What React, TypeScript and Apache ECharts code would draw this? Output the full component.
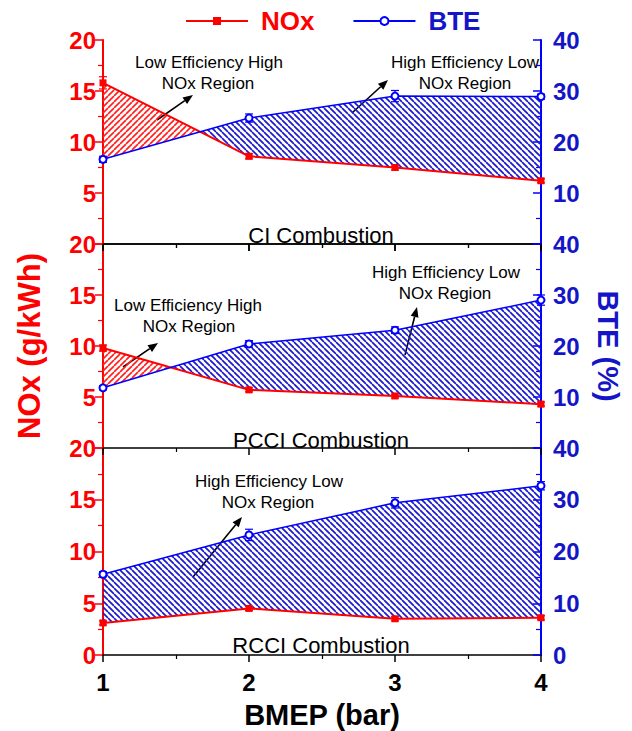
import React, { useEffect, useRef } from "react";
import * as echarts from "echarts";

const BMEP = [1, 2, 3, 4];
const PANEL_TITLES = ["CI Combustion", "PCCI Combustion", "RCCI Combustion"];
const NOX_CI = [15.8, 8.6, 7.5, 6.2];
const BTE_CI = [16.6, 24.7, 29.0, 28.9];
const NOX_PCCI = [9.8, 5.7, 5.1, 4.3];
const BTE_PCCI = [11.8, 20.4, 23.1, 29.0];
const NOX_RCCI = [3.1, 4.5, 3.5, 3.6];
const BTE_RCCI = [15.6, 23.2, 29.4, 32.7];
const NOX_ERR_CI = [0.6, 0.25, 0.25, 0.2];
const BTE_ERR_CI = [0.6, 0.8, 1.1, 0.5];
const NOX_ERR_PCCI = [0.3, 0.2, 0.2, 0.2];
const BTE_ERR_PCCI = [0.4, 0.65, 0.65, 1.0];
const NOX_ERR_RCCI = [0.2, 0.2, 0.2, 0.2];
const BTE_ERR_RCCI = [0.5, 1.1, 1.0, 0.8];
const NOX_TICKS = { min: 0, max: 20, interval: 5 };
const BTE_TICKS = { min: 0, max: 40, interval: 10 };

const RED = "#ff0000";
const BLUE = "#0000ff";
const BLUE_TEXT = "#1515c8";

function hatch(color: string, forward: boolean) {
  const s = 6;
  const c = document.createElement("canvas");
  c.width = s;
  c.height = s;
  const g = c.getContext("2d")!;
  g.strokeStyle = color;
  g.lineWidth = 1.7;
  for (const k of [-s, 0, s]) {
    g.beginPath();
    if (forward) {
      g.moveTo(k, s);
      g.lineTo(k + s, 0);
    } else {
      g.moveTo(k, 0);
      g.lineTo(k + s, s);
    }
    g.stroke();
  }
  return { image: c.toDataURL(), repeat: "repeat", imageWidth: s, imageHeight: s };
}

function arrow(x1: number, y1: number, x2: number, y2: number) {
  const ang = Math.atan2(y2 - y1, x2 - x1);
  const L = 10, W = 4;
  const bx = x2 - L * Math.cos(ang), by = y2 - L * Math.sin(ang);
  const px = -Math.sin(ang) * W, py = Math.cos(ang) * W;
  return [
    { type: "line", shape: { x1, y1, x2: bx, y2: by }, style: { stroke: "#000", lineWidth: 1.6 } },
    {
      type: "polygon",
      shape: { points: [[x2, y2], [bx + px, by + py], [bx - px, by - py]] },
      style: { fill: "#000" },
    },
  ];
}

function noteText(x: number, y: number, text: string, size = 17) {
  return {
    type: "text",
    x,
    y,
    style: {
      text,
      textAlign: "center",
      textVerticalAlign: "middle",
      font: `${size}px "Liberation Sans", Arial, sans-serif`,
      fill: "#000",
    },
  };
}

export default function App() {
  const ref = useRef<HTMLDivElement>(null);
  useEffect(() => {
    document.body.style.margin = "0";
    const chart = echarts.init(ref.current!, null, { renderer: "svg" });
    const blueHatch = hatch("#1a1acc", false);
    const redHatch = hatch("#ff2020", true);

    const panels = [
      { nox: NOX_CI, bte: BTE_CI, ne: NOX_ERR_CI, be: BTE_ERR_CI, top: 40, height: 204 },
      { nox: NOX_PCCI, bte: BTE_PCCI, ne: NOX_ERR_PCCI, be: BTE_ERR_PCCI, top: 244, height: 204 },
      { nox: NOX_RCCI, bte: BTE_RCCI, ne: NOX_ERR_RCCI, be: BTE_ERR_RCCI, top: 448, height: 207 },
    ];

    const grids = panels.map((p) => ({ left: 103, right: 91, top: p.top, height: p.height }));

    const xAxes: any[] = panels.map((_, i) => ({
      type: "value",
      gridIndex: i,
      position: "bottom",
      min: 1,
      max: 4,
      interval: 1,
      axisLine: { lineStyle: { color: "#000", width: 1.5 } },
      axisTick: { show: true, length: 7, lineStyle: { color: "#000", width: 1.5 } },
      minorTick: { show: true, splitNumber: 2, length: 4, lineStyle: { color: "#000", width: 1.2 } },
      splitLine: { show: false },
      axisLabel: {
        show: i === 2,
        color: "#000",
        fontSize: 24,
        fontWeight: "bold",
        margin: 15,
      },
      name: i === 2 ? "BMEP (bar)" : "",
      nameLocation: "middle",
      nameGap: 45,
      nameTextStyle: { color: "#000", fontSize: 29, fontWeight: "bold" },
    }));
    xAxes.push({
      type: "value",
      gridIndex: 0,
      position: "top",
      min: 1,
      max: 4,
      interval: 1,
      axisLine: { lineStyle: { color: "#000", width: 1.5 } },
      axisTick: { show: true, inside: true, length: 7, lineStyle: { color: "#000", width: 1.5 } },
      minorTick: { show: true, splitNumber: 2, length: 4, lineStyle: { color: "#000", width: 1.2 } },
      splitLine: { show: false },
      axisLabel: { show: false },
    });

    const yAxes: any[] = [];
    panels.forEach((_, i) => {
      yAxes.push({
        type: "value",
        gridIndex: i,
        position: "left",
        ...NOX_TICKS,
        axisLine: { show: true, lineStyle: { color: RED, width: 2 } },
        axisTick: { show: true, length: 8, lineStyle: { color: RED, width: 1.5 } },
        minorTick: { show: true, splitNumber: 2, length: 5, lineStyle: { color: RED, width: 1.2 } },
        splitLine: { show: false },
        axisLabel: { color: RED, fontSize: 24, fontWeight: "bold", margin: 7, showMinLabel: i === 2 },
        name: i === 1 ? "NOx (g/kWh)" : "",
        nameLocation: "middle",
        nameRotate: 90,
        nameGap: 58,
        nameTextStyle: { color: RED, fontSize: 31, fontWeight: "bold" },
      });
      yAxes.push({
        type: "value",
        gridIndex: i,
        position: "right",
        ...BTE_TICKS,
        axisLine: { show: true, lineStyle: { color: BLUE, width: 2 } },
        axisTick: { show: true, inside: true, length: 8, lineStyle: { color: BLUE, width: 1.5 } },
        minorTick: { show: true, splitNumber: 2, length: 5, lineStyle: { color: BLUE, width: 1.2 } },
        splitLine: { show: false },
        axisLabel: { color: BLUE_TEXT, fontSize: 24, fontWeight: "bold", margin: 12, showMinLabel: i === 2 },
        name: i === 1 ? "BTE (%)" : "",
        nameLocation: "middle",
        nameRotate: -90,
        nameGap: 52,
        nameTextStyle: { color: BLUE_TEXT, fontSize: 29, fontWeight: "bold" },
      });
    });

    const series: any[] = [];
    panels.forEach((p, i) => {
      series.push({
        type: "custom",
        xAxisIndex: i,
        yAxisIndex: 2 * i,
        silent: true,
        z: 1,
        data: BMEP.slice(0, -1).map((x, k) => [k, 0]),
        renderItem: (params: any, api: any) => {
          const k = api.value(0);
          const x0 = BMEP[k], x1 = BMEP[k + 1];
          const r = NOX_TICKS.max / BTE_TICKS.max;
          const n0 = p.nox[k], n1 = p.nox[k + 1];
          const b0 = p.bte[k] * r, b1 = p.bte[k + 1] * r;
          const d0 = b0 - n0, d1 = b1 - n1;
          const poly = (pts: number[][], fill: any) => ({
            type: "polygon",
            shape: { points: pts.map((q) => api.coord(q)) },
            style: { fill, stroke: null },
          });
          const children: any[] = [];
          if (d0 * d1 >= 0) {
            children.push(
              poly([[x0, n0], [x1, n1], [x1, b1], [x0, b0]], d0 + d1 > 0 ? blueHatch : redHatch)
            );
          } else {
            const t = d0 / (d0 - d1);
            const xc = x0 + t * (x1 - x0);
            const yc = n0 + t * (n1 - n0);
            children.push(poly([[x0, n0], [xc, yc], [x0, b0]], d0 > 0 ? blueHatch : redHatch));
            children.push(poly([[xc, yc], [x1, n1], [x1, b1]], d1 > 0 ? blueHatch : redHatch));
          }
          return { type: "group", children };
        },
      });
      series.push({
        name: "NOx",
        type: "line",
        xAxisIndex: i,
        yAxisIndex: 2 * i,
        z: 3,
        data: BMEP.map((x, k) => [x, p.nox[k]]),
        symbol: "rect",
        symbolSize: 7,
        lineStyle: { color: RED, width: 2 },
        itemStyle: { color: RED },
      });
      series.push({
        name: "BTE",
        type: "line",
        xAxisIndex: i,
        yAxisIndex: 2 * i + 1,
        z: 3,
        data: BMEP.map((x, k) => [x, p.bte[k]]),
        symbol: "emptyCircle",
        symbolSize: 7,
        lineStyle: { color: BLUE, width: 1.5 },
        itemStyle: { color: BLUE, borderWidth: 1 },
      });
      const errSeries = (vals: number[], errs: number[], yIdx: number, color: string) => ({
        type: "custom",
        xAxisIndex: i,
        yAxisIndex: yIdx,
        silent: true,
        z: 2,
        data: BMEP.map((x, k) => [x, vals[k], errs[k]]),
        renderItem: (params: any, api: any) => {
          const x = api.value(0), v = api.value(1), e = api.value(2);
          const hi = api.coord([x, v + e]);
          const lo = api.coord([x, v - e]);
          const w = 4;
          const st = { stroke: color, lineWidth: 1.2 };
          return {
            type: "group",
            children: [
              { type: "line", shape: { x1: hi[0], y1: hi[1], x2: lo[0], y2: lo[1] }, style: st },
              { type: "line", shape: { x1: hi[0] - w, y1: hi[1], x2: hi[0] + w, y2: hi[1] }, style: st },
              { type: "line", shape: { x1: lo[0] - w, y1: lo[1], x2: lo[0] + w, y2: lo[1] }, style: st },
            ],
          };
        },
      });
      series.push(errSeries(p.nox, p.ne, 2 * i, RED));
      series.push(errSeries(p.bte, p.be, 2 * i + 1, BLUE));
    });

    const graphic: any[] = [
      noteText(209, 62, "Low Efficiency High"),
      noteText(208, 83, "NOx Region"),
      noteText(465, 62, "High Efficiency Low"),
      noteText(465, 83, "NOx Region"),
      noteText(446, 272, "High Efficiency Low"),
      noteText(445, 293, "NOx Region"),
      noteText(188, 305, "Low Efficiency High"),
      noteText(189, 326, "NOx Region"),
      noteText(269, 481, "High Efficiency Low"),
      noteText(268, 502, "NOx Region"),
      ...arrow(157, 120, 193, 95),
      ...arrow(352, 113, 388, 80),
      ...arrow(405, 355, 417, 307),
      ...arrow(123, 367, 158, 343),
      ...arrow(193, 577, 242, 517),
      noteText(321, 235, PANEL_TITLES[0], 22),
      noteText(321, 440, PANEL_TITLES[1], 22),
      noteText(321, 645, PANEL_TITLES[2], 22),
    ];

    chart.setOption({
      animation: false,
      textStyle: { fontFamily: '"Liberation Sans", Arial, sans-serif' },
      legend: {
        top: 3,
        left: 180,
        itemWidth: 62,
        itemHeight: 10,
        itemGap: 38,
        data: [
          { name: "NOx", textStyle: { color: RED } },
          { name: "BTE", textStyle: { color: BLUE_TEXT } },
        ],
        textStyle: { fontSize: 26, fontWeight: "bold", padding: [0, 0, 0, 8] },
      },
      grid: grids,
      xAxis: xAxes,
      yAxis: yAxes,
      series,
      graphic,
    });
    return () => chart.dispose();
  }, []);
  return <div ref={ref} style={{ width: 632, height: 731 }} />;
}
